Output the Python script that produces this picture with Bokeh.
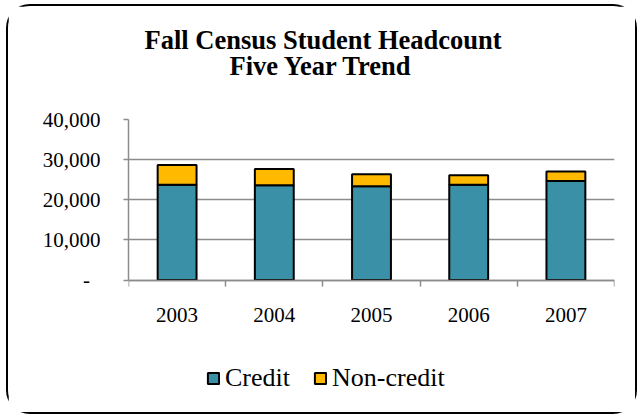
from bokeh.plotting import figure
from bokeh.models import (Range1d, FixedTicker, NumeralTickFormatter, Title, ColumnDataSource,
                          Legend, LegendItem)
from bokeh.embed import file_html
from bokeh.resources import INLINE

# ---- data ----
years = ["2003", "2004", "2005", "2006", "2007"]
credit = [23750, 23600, 23400, 23750, 24650]
noncredit = [4900, 4050, 2950, 2350, 2400]
series = ["Credit", "Non-credit"]
colors = ["#3A90A6", "#FFBA00"]
y_ticks = [0, 10000, 20000, 30000, 40000]
title_lines = ["Fall Census Student Headcount", "Five Year Trend"]

xpos = [i + 1 for i in range(len(years))]
src = ColumnDataSource(dict(x=xpos, Credit=credit, **{"Non-credit": noncredit}))

SERIF = "Liberation Serif"

# layout (pixels)
W, H = 631, 410
BORDER = 2
TOP, BOTTOM, LEFT, RIGHT = 113, 12, 120, 25
AXIS_PX = 158.3          # height of the 0..40,000 value band
frame_h = H - 2 * BORDER - TOP - BOTTOM
y_max = y_ticks[-1]
y_min = -y_max * (frame_h - AXIS_PX) / AXIS_PX   # room below the axis for labels & legend

p = figure(width=W, height=H, output_backend="svg", toolbar_location=None,
           x_range=Range1d(0.5, len(years) + 0.5), y_range=Range1d(y_min, y_max),
           min_border_left=LEFT, min_border_right=RIGHT, min_border_top=TOP,
           min_border_bottom=BOTTOM)
p.styles = {"border": f"{BORDER}px solid black", "border-radius": "24px",
            "margin-left": "6px", "margin-top": "4px"}
p.outline_line_color = None
p.background_fill_color = "white"
p.border_fill_color = "white"
p.title.visible = False

rs = p.vbar_stack(series, x="x", width=0.4, source=src, fill_color=colors,
                  line_color="black", line_width=2)

# axes
p.xaxis.fixed_location = 0
p.xaxis.ticker = FixedTicker(ticks=xpos, minor_ticks=[x - 0.5 for x in xpos] + [xpos[-1] + 0.5])
p.xaxis.major_label_overrides = {x: y for x, y in zip(xpos, years)}
p.xaxis.major_tick_out = 0
p.xaxis.major_tick_in = 0
p.xaxis.minor_tick_out = 6
p.xaxis.minor_tick_in = 0
p.xaxis.minor_tick_line_color = "#8c8c8c"
p.xaxis.minor_tick_line_width = 1.5
p.xaxis.major_label_standoff = 22

p.yaxis.ticker = FixedTicker(ticks=y_ticks)
p.yaxis.bounds = (y_ticks[0], y_ticks[-1])
p.yaxis.formatter = NumeralTickFormatter(format="0,0")
p.yaxis.major_label_overrides = {0: "-\u00a0\u00a0"}
p.yaxis.major_tick_out = 5
p.yaxis.major_tick_in = 0
p.yaxis.minor_tick_line_color = None
p.yaxis.major_label_standoff = 23

for ax in (p.xaxis, p.yaxis):
    ax.axis_line_color = "#8c8c8c"
    ax.axis_line_width = 1.5
    ax.major_tick_line_color = "#8c8c8c"
    ax.major_tick_line_width = 1.5
    ax.major_label_text_font = SERIF
    ax.major_label_text_font_size = "21px"
    ax.major_label_text_color = "black"

p.xgrid.grid_line_color = None
p.ygrid.ticker = FixedTicker(ticks=y_ticks)
p.ygrid.grid_line_color = "#8c8c8c"
p.ygrid.grid_line_width = 1.5

# title: spacer nearest the plot, then line 2, then line 1
p.add_layout(Title(text="\u00a0", text_font_size="1px", standoff=36), "above")
for txt, so, off in [(title_lines[1], 0, 101), (title_lines[0], -12, 16)]:
    p.add_layout(Title(text=txt, align="left", offset=off, standoff=so,
                       text_font=SERIF, text_font_size="26.5px", text_font_style="bold",
                       text_color="black"), "above")

# legend (inside the frame, below the category labels)
lg = Legend(items=[LegendItem(label=series[0], renderers=[rs[0]]),
                   LegendItem(label=series[1], renderers=[rs[1]])],
            location=(78, 11), orientation="horizontal",
            border_line_color=None, background_fill_alpha=0, padding=0, margin=0,
            spacing=23, glyph_width=14, glyph_height=14, label_standoff=5,
            label_text_font=SERIF, label_text_font_size="26px", label_text_color="black")
p.add_layout(lg)

open("out.html", "w").write(file_html(p, INLINE))
